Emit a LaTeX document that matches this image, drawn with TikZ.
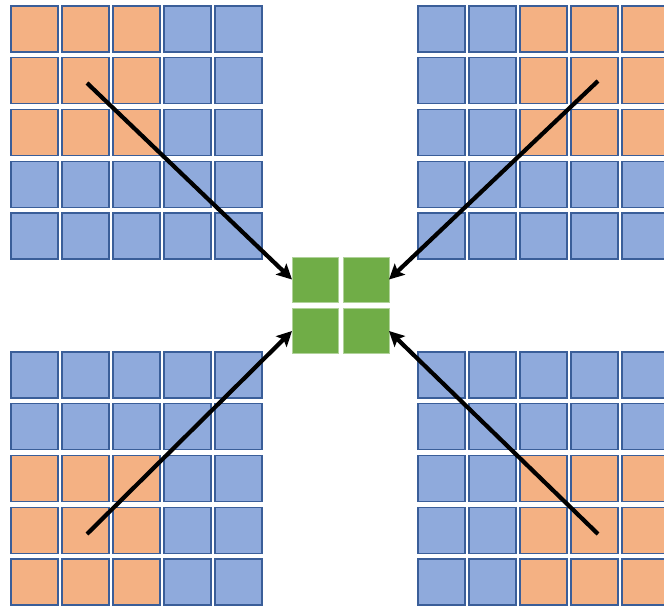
\documentclass[tikz,border=0pt]{standalone}
\usetikzlibrary{arrows.meta}
\definecolor{org}{HTML}{F4B183}
\definecolor{blu}{HTML}{8FAADC}
\definecolor{edg}{HTML}{3A5E99}
\definecolor{grn}{HTML}{70AD47}
\begin{document}
\begin{tikzpicture}[x=1pt,y=-1pt,
  cellbox/.style={draw=edg,line width=1.4pt},
  greenbox/.style={draw=grn!55!white,line width=0.6pt,fill=grn,minimum width=46pt,minimum height=45pt,inner sep=0pt,outer sep=0pt},
  bigarrow/.style={line width=4.2pt,-{Stealth[length=15pt,width=15pt,inset=3pt]}}]
\useasboundingbox (0,0) rectangle (664,608);
% grids
\foreach \gx/\gy/\oc/\orow in {11/6/0/0, 418/6/2/0, 11/352/0/2, 418/352/2/2}{
  \foreach \i in {0,...,4}{
    \foreach \j in {0,...,4}{
      \draw[cellbox,fill=blu] ({\gx+\i*51},{\gy+\j*51.75}) rectangle +(47,46);
    }
  }
  \foreach \i in {0,1,2}{
    \foreach \j in {0,1,2}{
      \draw[cellbox,fill=org] ({\gx+(\i+\oc)*51},{\gy+(\j+\orow)*51.75}) rectangle +(47,46);
    }
  }
}
% green squares
\node[greenbox] (g1) at (315,279.5) {};
\node[greenbox] (g2) at (366,279.5) {};
\node[greenbox] (g3) at (315,331) {};
\node[greenbox] (g4) at (366,331) {};
% arrow starts
\coordinate (s1) at (87,83);
\coordinate (s2) at (598,81);
\coordinate (s3) at (87,534);
\coordinate (s4) at (598,534);
\draw[bigarrow] (s1) -- (g1.west);
\draw[bigarrow] (s2) -- (g2.east);
\draw[bigarrow] (s3) -- (g3.west);
\draw[bigarrow] (s4) -- (g4.east);
\end{tikzpicture}
\end{document}
